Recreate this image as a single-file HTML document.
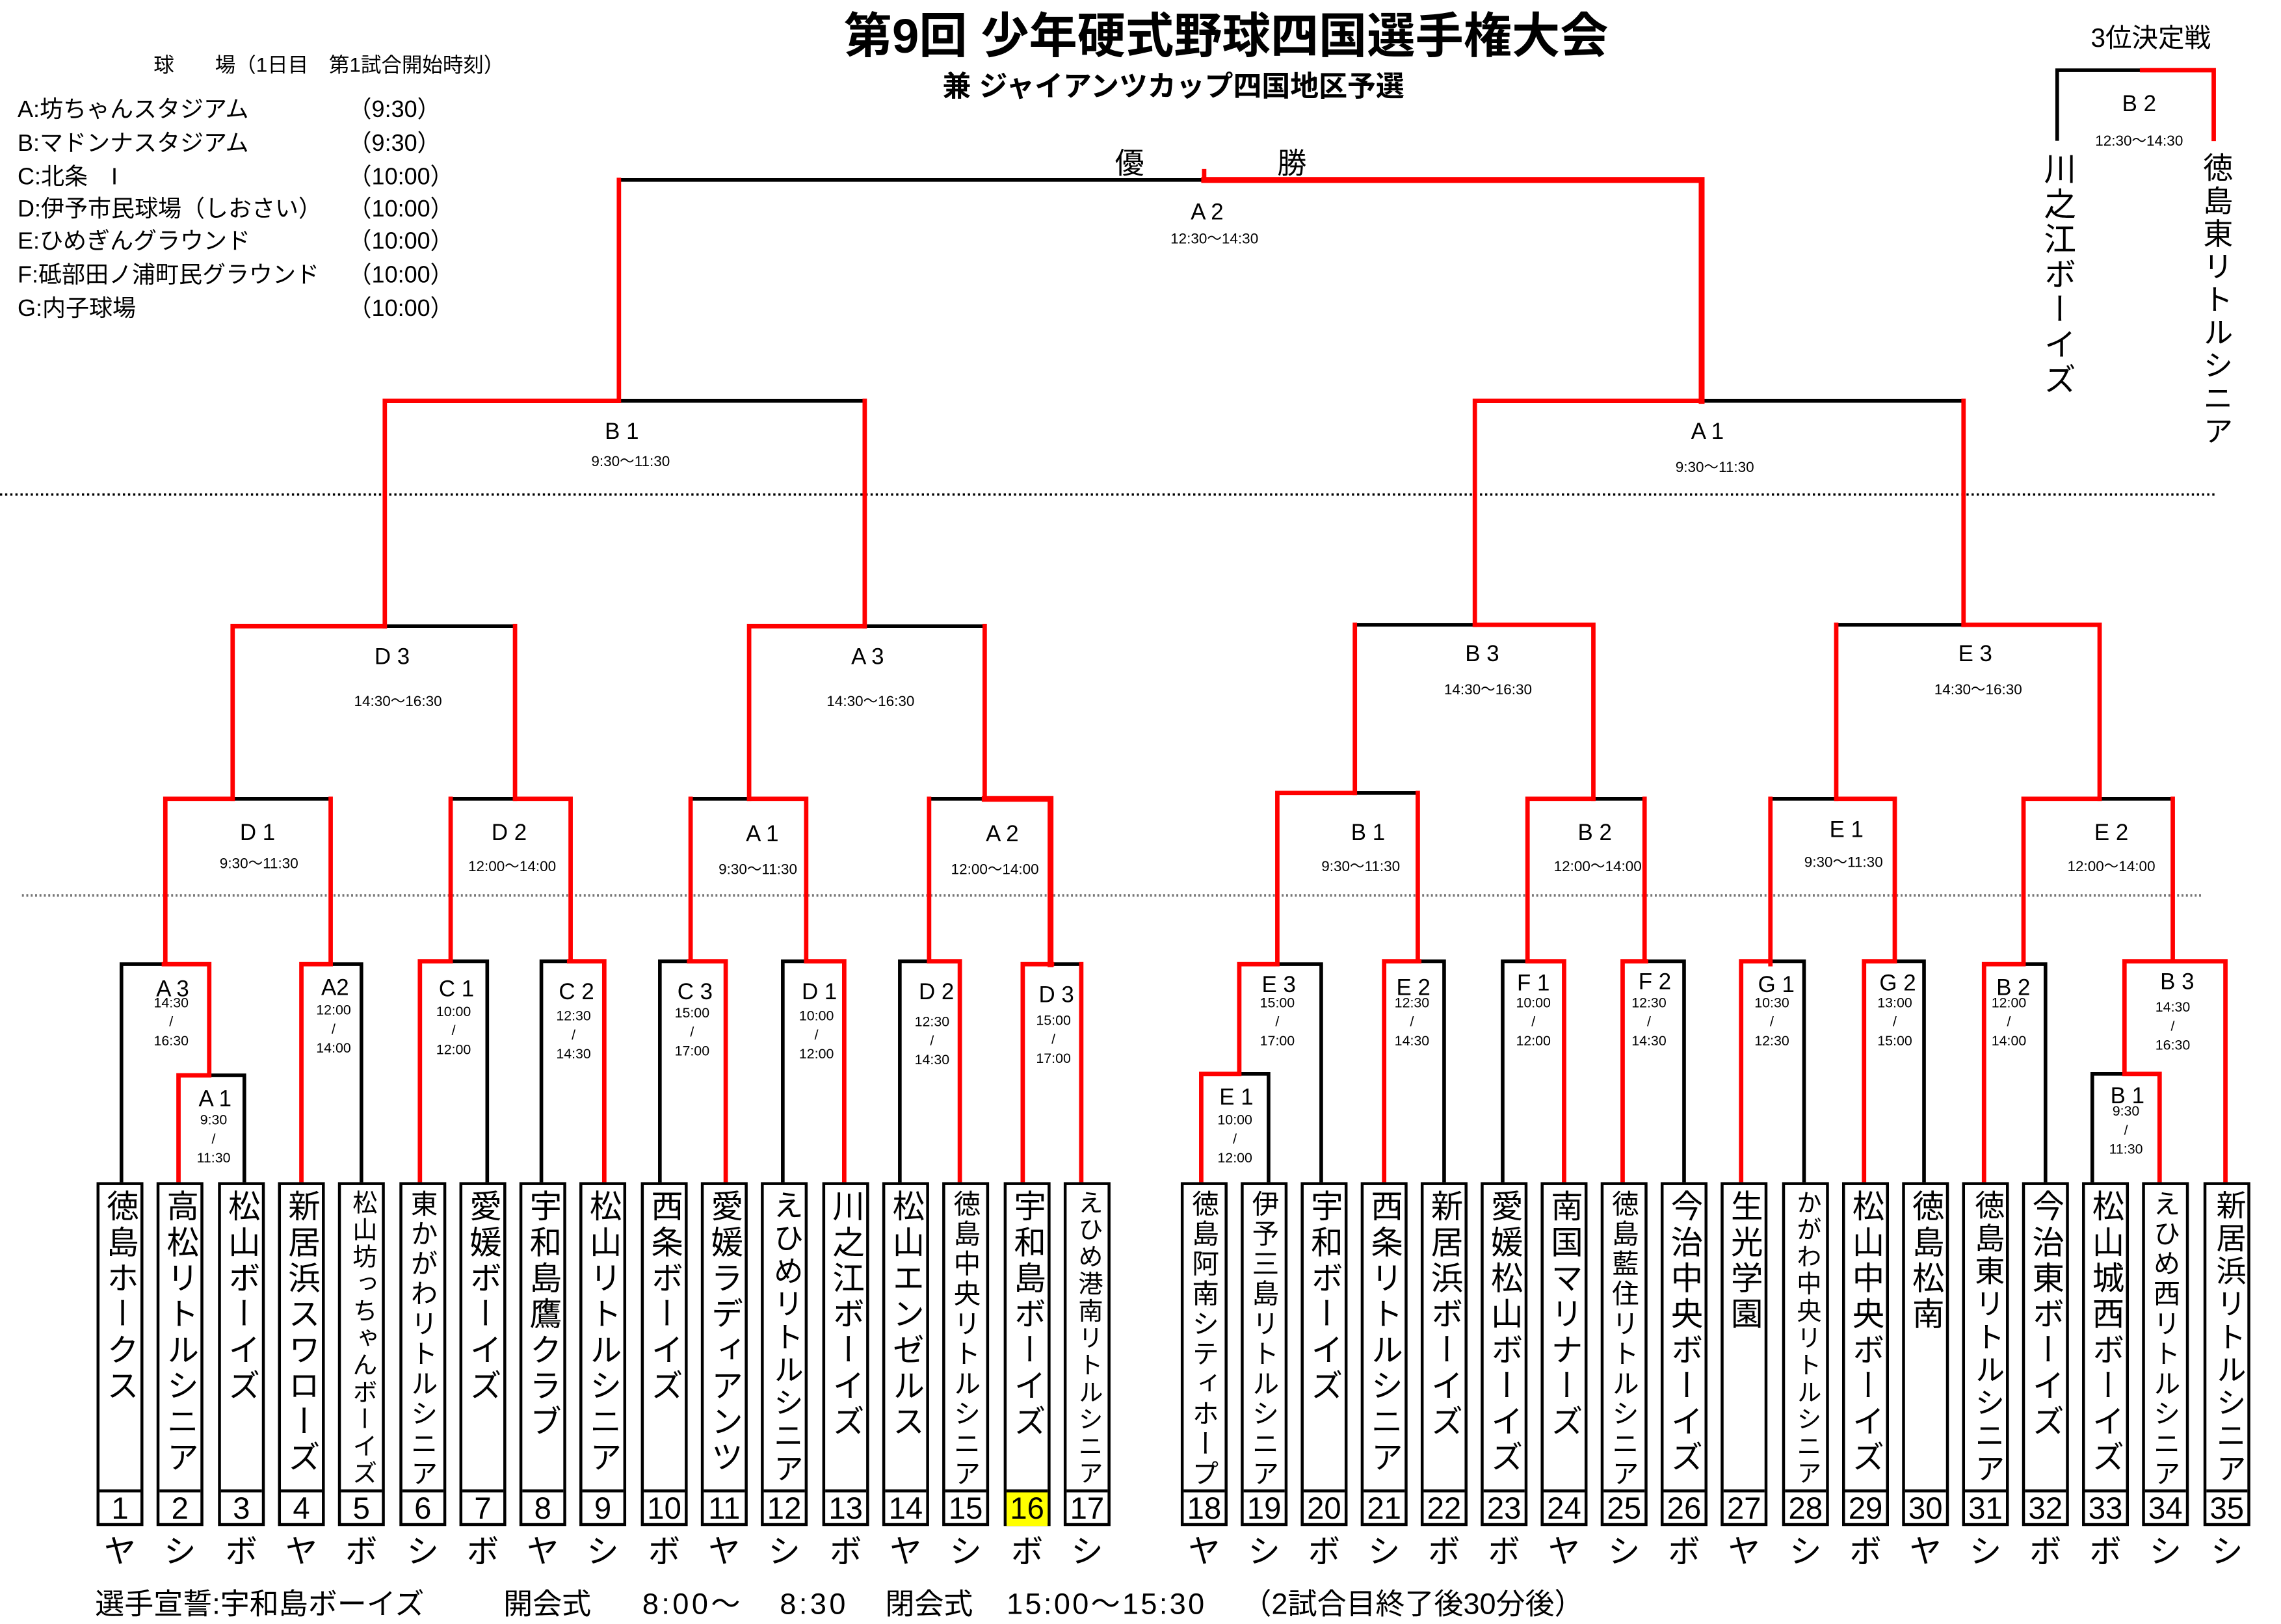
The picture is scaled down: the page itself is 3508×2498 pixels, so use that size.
<!DOCTYPE html>
<html><head><meta charset="utf-8">
<style>
html,body{margin:0;padding:0;background:#fff;}
body{width:3508px;height:2480px;overflow:hidden;position:relative;}
#w{position:absolute;left:0;top:0;width:1559px;height:1102px;transform-origin:0 0;transform:scale(2.2502,2.2505);font-family:"Liberation Sans","Noto Sans CJK JP",sans-serif;color:#000;}
svg{position:absolute;left:0;top:0;}
.t{position:absolute;white-space:nowrap;}
.c{position:absolute;white-space:nowrap;transform:translate(-50%,-50%);text-align:center;}
.b{position:absolute;top:808px;width:32px;height:235px;border:2px solid #000;box-sizing:border-box;background:#fff;}
.n{position:absolute;left:0;top:0;width:28px;height:208px;writing-mode:vertical-rl;text-orientation:upright;line-height:28px;padding-top:3px;box-sizing:border-box;overflow:hidden;}
.L{font-size:22px;letter-spacing:2.5px;}
.M{font-size:20.5px;letter-spacing:2px;}
.S{font-size:18.5px;letter-spacing:2px;}
.X{font-size:17px;letter-spacing:1.5px;}
.num{position:absolute;left:0;top:208px;width:28px;height:23px;border-top:2px solid #000;font-size:21px;line-height:23px;text-align:center;}
.k{position:absolute;top:1047px;width:32px;text-align:center;font-size:22px;line-height:28px;}
.g{font-size:15.5px;}
.tm{font-size:9.5px;line-height:13px;}
.tt{font-size:10px;}
.lg{font-size:16px;}
#ft{position:absolute;left:0;top:1084px;height:26px;width:1200px;font-size:20px;line-height:26px;}
#ft span{position:absolute;top:0;white-space:nowrap;}
</style></head><body><div id="w">
<svg width="1559" height="1102" viewBox="0 0 1559 1102">
<g fill="none" stroke-linecap="butt">
<line x1="0" y1="338" x2="1514" y2="338" stroke="#000" stroke-width="1.6" stroke-dasharray="1.5 2"/>
<line x1="15" y1="612" x2="1505" y2="612" stroke="#777" stroke-width="1.8" stroke-dasharray="1.3 1.7"/>
</g>
<g fill="none" stroke-linecap="square">
<g stroke="#000" stroke-width="2.5">
<path d="M423 123H823 M423 274H591 M1163 274H1342 M263 428H352 M591 428H673 M926 427H1008 M1255 427H1342"/>
<path d="M159 546H226 M308 546H352 M472 546H512 M635 546H673 M926 542H969 M1089 546H1124 M1210 546H1255 M1435 546H1485"/>
<path d="M83 659H112 M83 659V808 M143 735H167V808 M226 659H247V808 M308 657H333V808 M370 808V657H389 M451 808V657H471 M535 808V657H552 M615 808V657H635 M719 659H739 M847 734H867V808 M873 659H903V808 M970 657H987V808 M1027 808V657H1044 M1125 657H1151V808 M1210 657H1233V808 M1295 657H1315V808 M1383 659H1398V808 M1430 808V734H1452"/>
<path d="M1406 95V48H1464"/>
</g>
<g stroke="#f00" stroke-width="3">
<path d="M823 117V123 M423 123V274 M263 274H423 M263 274V428 M591 274V428 M1008 274V427 M1342 274V427 M1008 274H1163"/>
<path d="M159 428H263 M159 428V546 M352 428V546 M512 428H591 M512 428V546 M673 428V546 M1008 427H1089 M926 427V542 M1089 427V546 M1342 427H1435 M1255 427V546 M1435 427V546"/>
<path d="M113 546H159 M113 546V659 M226 546V659 M352 546H390V657 M308 546V657 M512 546H551V657 M472 546V657 M635 546V657 M873 542H926 M873 542V659 M969 542V657 M1044 546H1089 M1044 546V657 M1124 546V657 M1255 546H1295V657 M1210 546V659 M1383 546H1435 M1383 546V657 M1485 546V657"/>
<path d="M112 659H143V735 M122 808V735H143 M206 808V659H226 M287 808V657H308 M389 657H413V808 M471 657H496V808 M552 657H577V808 M635 657H656V808 M699 808V659H719 M739 659V808 M821 808V734H847V659H873 M946 808V657H970 M1044 657H1069V808 M1109 808V657H1125 M1190 808V657H1210 M1274 808V657H1295 M1356 808V659H1383 M1452 734H1476V808 M1452 734V657H1521V808"/>
<path d="M1464 48H1513V95"/>
</g>
<g stroke="#f00" stroke-width="4">
<path d="M823 123H1163V274 M673 546H718V659"/>
</g>
</g>
</svg>

<div class="c" style="left:838px;top:22px;font-size:33px;font-weight:bold;">第9回 少年硬式野球四国選手権大会</div>
<div class="c" style="left:802px;top:57px;font-size:19.5px;font-weight:bold;">兼 ジャイアンツカップ四国地区予選</div>
<div class="t" style="left:105px;top:34px;font-size:14px;">球　　場（1日目　第1試合開始時刻）</div>
<div class="t lg" style="left:12px;top:61px;">A:坊ちゃんスタジアム</div><div class="t lg" style="left:238px;top:61px;">（9:30）</div>
<div class="t lg" style="left:12px;top:84px;">B:マドンナスタジアム</div><div class="t lg" style="left:238px;top:84px;">（9:30）</div>
<div class="t lg" style="left:12px;top:107px;">C:北条　I</div><div class="t lg" style="left:238px;top:107px;">（10:00）</div>
<div class="t lg" style="left:12px;top:129px;">D:伊予市民球場（しおさい）</div><div class="t lg" style="left:238px;top:129px;">（10:00）</div>
<div class="t lg" style="left:12px;top:151px;">E:ひめぎんグラウンド</div><div class="t lg" style="left:238px;top:151px;">（10:00）</div>
<div class="t lg" style="left:12px;top:174px;">F:砥部田ノ浦町民グラウンド</div><div class="t lg" style="left:238px;top:174px;">（10:00）</div>
<div class="t lg" style="left:12px;top:197px;">G:内子球場</div><div class="t lg" style="left:238px;top:197px;">（10:00）</div>

<div class="c" style="left:1470px;top:25px;font-size:18px;">3位決定戦</div>
<div class="c g" style="left:1462px;top:72px;">B 2</div>
<div class="c tt" style="left:1462px;top:95px;">12:30〜14:30</div>
<div class="t" style="left:1394px;top:104px;width:24px;writing-mode:vertical-rl;text-orientation:upright;font-size:22px;letter-spacing:2px;line-height:24px;">川之江ボーイズ</div>
<div class="t" style="left:1501px;top:104px;width:24px;writing-mode:vertical-rl;text-orientation:upright;font-size:20.5px;letter-spacing:2px;line-height:24px;">徳島東リトルシニア</div>

<div class="c" style="left:772px;top:110px;font-size:20px;">優</div>
<div class="c" style="left:883px;top:110px;font-size:20px;">勝</div>
<div class="c g" style="left:825px;top:146px;">A 2</div><div class="c tt" style="left:830px;top:162px;">12:30〜14:30</div>

<div class="c g" style="left:425px;top:296px;">B 1</div><div class="c tt" style="left:431px;top:314px;">9:30〜11:30</div>
<div class="c g" style="left:1167px;top:296px;">A 1</div><div class="c tt" style="left:1172px;top:318px;">9:30〜11:30</div>
<div class="c g" style="left:268px;top:450px;">D 3</div><div class="c tt" style="left:272px;top:478px;">14:30〜16:30</div>
<div class="c g" style="left:593px;top:450px;">A 3</div><div class="c tt" style="left:595px;top:478px;">14:30〜16:30</div>
<div class="c g" style="left:1013px;top:448px;">B 3</div><div class="c tt" style="left:1017px;top:470px;">14:30〜16:30</div>
<div class="c g" style="left:1350px;top:448px;">E 3</div><div class="c tt" style="left:1352px;top:470px;">14:30〜16:30</div>

<div class="c g" style="left:176px;top:570px;">D 1</div><div class="c tt" style="left:177px;top:589px;">9:30〜11:30</div>
<div class="c g" style="left:348px;top:570px;">D 2</div><div class="c tt" style="left:350px;top:591px;">12:00〜14:00</div>
<div class="c g" style="left:521px;top:571px;">A 1</div><div class="c tt" style="left:518px;top:593px;">9:30〜11:30</div>
<div class="c g" style="left:685px;top:571px;">A 2</div><div class="c tt" style="left:680px;top:593px;">12:00〜14:00</div>
<div class="c g" style="left:935px;top:570px;">B 1</div><div class="c tt" style="left:930px;top:591px;">9:30〜11:30</div>
<div class="c g" style="left:1090px;top:570px;">B 2</div><div class="c tt" style="left:1092px;top:591px;">12:00〜14:00</div>
<div class="c g" style="left:1262px;top:568px;">E 1</div><div class="c tt" style="left:1260px;top:588px;">9:30〜11:30</div>
<div class="c g" style="left:1443px;top:570px;">E 2</div><div class="c tt" style="left:1443px;top:591px;">12:00〜14:00</div>

<div class="c g" style="left:118px;top:677px;">A 3</div><div class="c tm" style="left:117px;top:699px;">14:30<br>/<br>16:30</div>
<div class="c g" style="left:147px;top:752px;">A 1</div><div class="c tm" style="left:146px;top:779px;">9:30<br>/<br>11:30</div>
<div class="c g" style="left:229px;top:676px;">A2</div><div class="c tm" style="left:228px;top:704px;">12:00<br>/<br>14:00</div>
<div class="c g" style="left:312px;top:677px;">C 1</div><div class="c tm" style="left:310px;top:705px;">10:00<br>/<br>12:00</div>
<div class="c g" style="left:394px;top:679px;">C 2</div><div class="c tm" style="left:392px;top:708px;">12:30<br>/<br>14:30</div>
<div class="c g" style="left:475px;top:679px;">C 3</div><div class="c tm" style="left:473px;top:706px;">15:00<br>/<br>17:00</div>
<div class="c g" style="left:560px;top:679px;">D 1</div><div class="c tm" style="left:558px;top:708px;">10:00<br>/<br>12:00</div>
<div class="c g" style="left:640px;top:679px;">D 2</div><div class="c tm" style="left:637px;top:712px;">12:30<br>/<br>14:30</div>
<div class="c g" style="left:722px;top:681px;">D 3</div><div class="c tm" style="left:720px;top:711px;">15:00<br>/<br>17:00</div>
<div class="c g" style="left:845px;top:751px;">E 1</div><div class="c tm" style="left:844px;top:779px;">10:00<br>/<br>12:00</div>
<div class="c g" style="left:874px;top:674px;">E 3</div><div class="c tm" style="left:873px;top:699px;">15:00<br>/<br>17:00</div>
<div class="c g" style="left:966px;top:676px;">E 2</div><div class="c tm" style="left:965px;top:699px;">12:30<br>/<br>14:30</div>
<div class="c g" style="left:1048px;top:673px;">F 1</div><div class="c tm" style="left:1048px;top:699px;">10:00<br>/<br>12:00</div>
<div class="c g" style="left:1131px;top:672px;">F 2</div><div class="c tm" style="left:1127px;top:699px;">12:30<br>/<br>14:30</div>
<div class="c g" style="left:1214px;top:674px;">G 1</div><div class="c tm" style="left:1211px;top:699px;">10:30<br>/<br>12:30</div>
<div class="c g" style="left:1297px;top:673px;">G 2</div><div class="c tm" style="left:1295px;top:699px;">13:00<br>/<br>15:00</div>
<div class="c g" style="left:1376px;top:676px;">B 2</div><div class="c tm" style="left:1373px;top:699px;">12:00<br>/<br>14:00</div>
<div class="c g" style="left:1488px;top:672px;">B 3</div><div class="c tm" style="left:1485px;top:702px;">14:30<br>/<br>16:30</div>
<div class="c g" style="left:1454px;top:750px;">B 1</div><div class="c tm" style="left:1453px;top:773px;">9:30<br>/<br>11:30</div>

<div class="b" style="left:66px"><div class="n L">徳島ホークス</div><div class="num">1</div></div>
<div class="b" style="left:107px"><div class="n L">高松リトルシニア</div><div class="num">2</div></div>
<div class="b" style="left:149px"><div class="n L">松山ボーイズ</div><div class="num">3</div></div>
<div class="b" style="left:190px"><div class="n L">新居浜スワローズ</div><div class="num">4</div></div>
<div class="b" style="left:231px"><div class="n X">松山坊っちゃんボーイズ</div><div class="num">5</div></div>
<div class="b" style="left:273px"><div class="n S">東かがわリトルシニア</div><div class="num">6</div></div>
<div class="b" style="left:314px"><div class="n L">愛媛ボーイズ</div><div class="num">7</div></div>
<div class="b" style="left:355px"><div class="n L">宇和島鷹クラブ</div><div class="num">8</div></div>
<div class="b" style="left:396px"><div class="n L">松山リトルシニア</div><div class="num">9</div></div>
<div class="b" style="left:438px"><div class="n L">西条ボーイズ</div><div class="num">10</div></div>
<div class="b" style="left:479px"><div class="n L">愛媛ラディアンツ</div><div class="num">11</div></div>
<div class="b" style="left:520px"><div class="n M">えひめリトルシニア</div><div class="num">12</div></div>
<div class="b" style="left:562px"><div class="n L">川之江ボーイズ</div><div class="num">13</div></div>
<div class="b" style="left:603px"><div class="n L">松山エンゼルス</div><div class="num">14</div></div>
<div class="b" style="left:644px"><div class="n S">徳島中央リトルシニア</div><div class="num">15</div></div>
<div class="b" style="left:686px"><div class="n L">宇和島ボーイズ</div><div class="num" style="background:#ff0;">16</div></div>
<div class="b" style="left:727px"><div class="n X">えひめ港南リトルシニア</div><div class="num">17</div></div>
<div class="b" style="left:807px"><div class="n S">徳島阿南シティホープ</div><div class="num">18</div></div>
<div class="b" style="left:848px"><div class="n S">伊予三島リトルシニア</div><div class="num">19</div></div>
<div class="b" style="left:889px"><div class="n L">宇和ボーイズ</div><div class="num">20</div></div>
<div class="b" style="left:930px"><div class="n L">西条リトルシニア</div><div class="num">21</div></div>
<div class="b" style="left:971px"><div class="n L">新居浜ボーイズ</div><div class="num">22</div></div>
<div class="b" style="left:1012px"><div class="n L">愛媛松山ボーイズ</div><div class="num">23</div></div>
<div class="b" style="left:1053px"><div class="n L">南国マリナーズ</div><div class="num">24</div></div>
<div class="b" style="left:1094px"><div class="n S">徳島藍住リトルシニア</div><div class="num">25</div></div>
<div class="b" style="left:1135px"><div class="n L">今治中央ボーイズ</div><div class="num">26</div></div>
<div class="b" style="left:1176px"><div class="n L">生光学園</div><div class="num">27</div></div>
<div class="b" style="left:1218px"><div class="n X">かがわ中央リトルシニア</div><div class="num">28</div></div>
<div class="b" style="left:1259px"><div class="n L">松山中央ボーイズ</div><div class="num">29</div></div>
<div class="b" style="left:1300px"><div class="n L">徳島松南</div><div class="num">30</div></div>
<div class="b" style="left:1341px"><div class="n M">徳島東リトルシニア</div><div class="num">31</div></div>
<div class="b" style="left:1382px"><div class="n L">今治東ボーイズ</div><div class="num">32</div></div>
<div class="b" style="left:1423px"><div class="n L">松山城西ボーイズ</div><div class="num">33</div></div>
<div class="b" style="left:1464px"><div class="n S">えひめ西リトルシニア</div><div class="num">34</div></div>
<div class="b" style="left:1506px"><div class="n M">新居浜リトルシニア</div><div class="num">35</div></div>

<div class="k" style="left:66px">ヤ</div><div class="k" style="left:107px">シ</div><div class="k" style="left:149px">ボ</div><div class="k" style="left:190px">ヤ</div><div class="k" style="left:231px">ボ</div><div class="k" style="left:273px">シ</div><div class="k" style="left:314px">ボ</div><div class="k" style="left:355px">ヤ</div><div class="k" style="left:396px">シ</div><div class="k" style="left:438px">ボ</div><div class="k" style="left:479px">ヤ</div><div class="k" style="left:520px">シ</div><div class="k" style="left:562px">ボ</div><div class="k" style="left:603px">ヤ</div><div class="k" style="left:644px">シ</div><div class="k" style="left:686px">ボ</div><div class="k" style="left:727px">シ</div>
<div class="k" style="left:807px">ヤ</div><div class="k" style="left:848px">シ</div><div class="k" style="left:889px">ボ</div><div class="k" style="left:930px">シ</div><div class="k" style="left:971px">ボ</div><div class="k" style="left:1012px">ボ</div><div class="k" style="left:1053px">ヤ</div><div class="k" style="left:1094px">シ</div><div class="k" style="left:1135px">ボ</div><div class="k" style="left:1176px">ヤ</div><div class="k" style="left:1218px">シ</div><div class="k" style="left:1259px">ボ</div><div class="k" style="left:1300px">ヤ</div><div class="k" style="left:1341px">シ</div><div class="k" style="left:1382px">ボ</div><div class="k" style="left:1423px">ボ</div><div class="k" style="left:1464px">シ</div><div class="k" style="left:1506px">シ</div>

<div id="ft">
<span style="left:65px;">選手宣誓:宇和島ボーイズ</span>
<span style="left:344px;">開会式</span>
<span style="left:439px;letter-spacing:2px;">8:00〜</span>
<span style="left:533px;letter-spacing:2px;">8:30</span>
<span style="left:605px;">閉会式</span>
<span style="left:688px;letter-spacing:1.5px;">15:00〜15:30</span>
<span style="left:849px;">（2試合目終了後30分後）</span>
</div>
</div></body></html>
